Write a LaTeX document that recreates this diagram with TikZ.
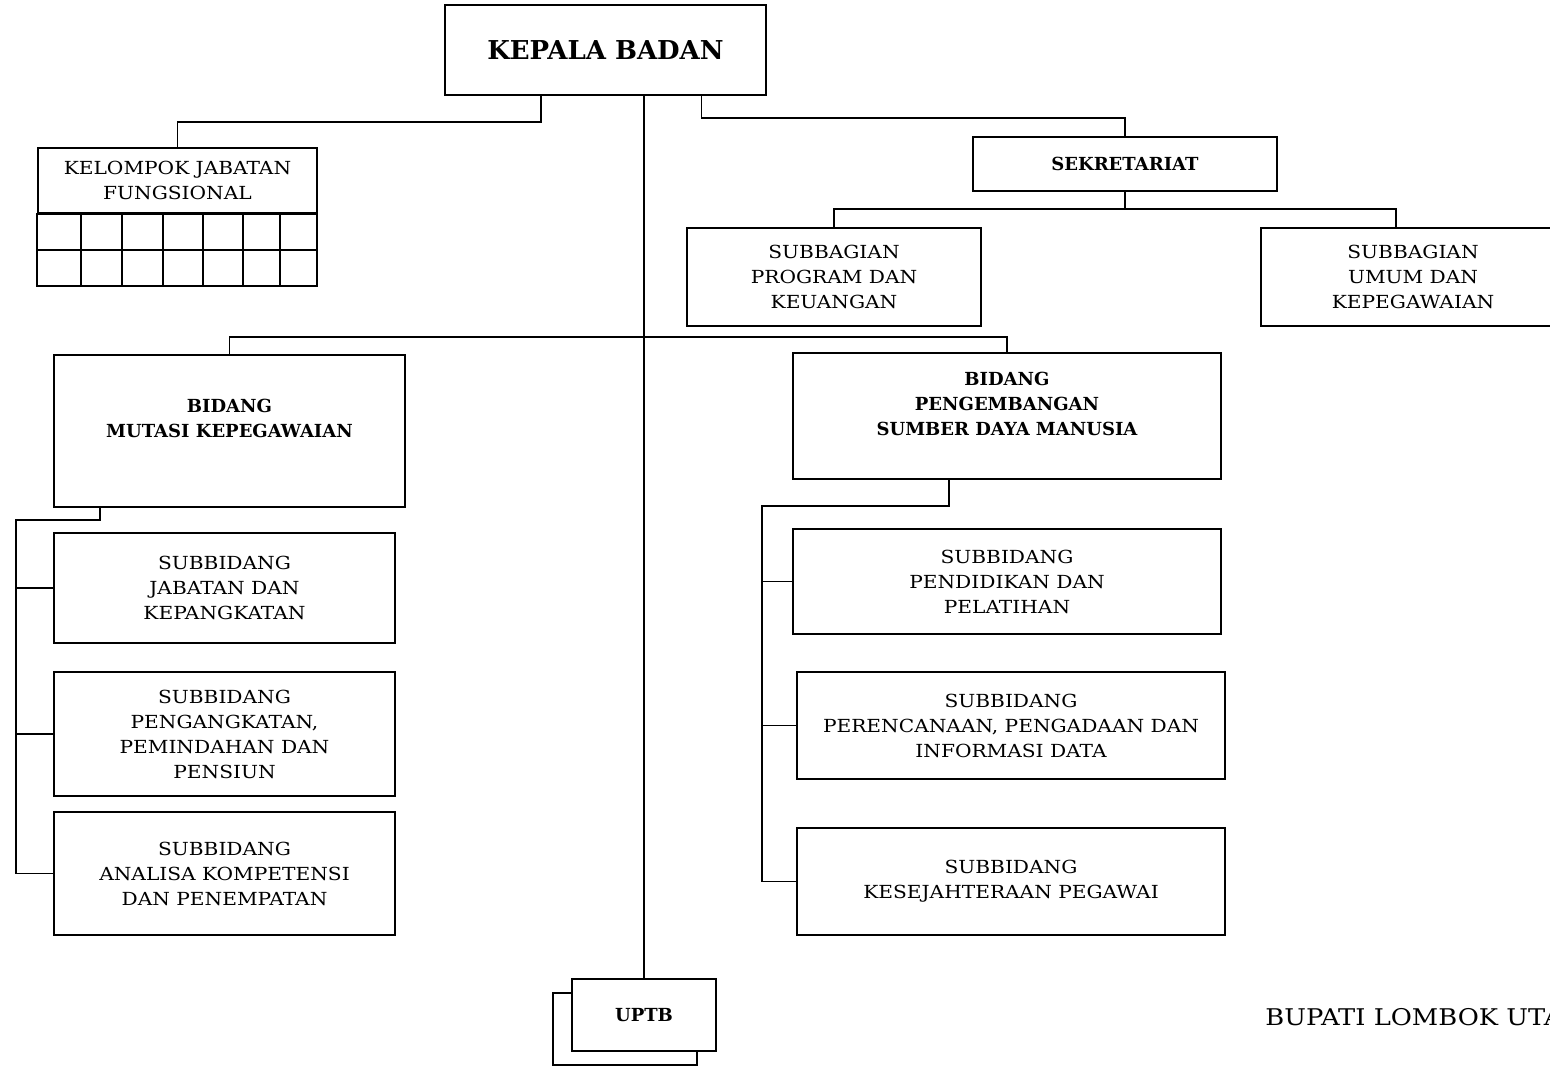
\documentclass[tikz,border=0pt]{standalone}
\usepackage{fontspec}
\setmainfont{DejaVu Serif}
\newfontfamily\widefont[FakeStretch=1.12]{DejaVu Serif}
\usepackage{tikz}
\usetikzlibrary{positioning}

\begin{document}
\begin{tikzpicture}[
    x=0.5pt, y=-0.5pt,
    unit_box/.style={rectangle, draw=black, fill=white, line width=0.9pt, align=center, inner sep=0pt, font=\widefont\fontsize{9}{12.5}\selectfont},
    head_box/.style={unit_box, font=\fontsize{9}{12.5}\selectfont\bfseries},
    line_style/.style={draw=black, line width=0.9pt}
]

\useasboundingbox (0,0) rectangle (1550,1065);

% Top node
\node[head_box, minimum width=160.5pt, minimum height=45pt, font=\fontsize{13}{16}\selectfont\bfseries] (kepala) at (605.5,50) {KEPALA BADAN};

% Functional group with grid
\node[unit_box, minimum width=139.5pt, minimum height=32.5pt] (kjf) at (177.5,180.5) {KELOMPOK JABATAN\\FUNGSIONAL};
\draw[line_style] (kjf.south west) rectangle (317,286);
\draw[line_style] (38,250) -- (317,250);
\foreach \x in {81,122,163,203,243,280}
    \draw[line_style] (\x,213) -- (\x,286);

% Secretariat and its subsections
\node[head_box, minimum width=152pt, minimum height=27pt] (sekretariat) at (1125,164) {SEKRETARIAT};
\node[unit_box, minimum width=147pt, minimum height=49pt] (subprog) at (834,277) {SUBBAGIAN\\PROGRAM DAN\\KEUANGAN};
\node[unit_box, minimum width=152pt, minimum height=49pt] (subumum) at (1413,277) {SUBBAGIAN\\UMUM DAN\\KEPEGAWAIAN};

% Left division
\node[head_box, minimum width=175.5pt, minimum height=76pt] (bidmutasi) at (229.5,431) {BIDANG\\MUTASI KEPEGAWAIAN\\~};
\node[unit_box, minimum width=170.5pt, minimum height=55pt] (subjab) at (224.5,588) {SUBBIDANG\\JABATAN DAN\\KEPANGKATAN};
\node[unit_box, minimum width=170.5pt, minimum height=62pt] (subpeng) at (224.5,734) {SUBBIDANG\\PENGANGKATAN,\\PEMINDAHAN DAN\\PENSIUN};
\node[unit_box, minimum width=170.5pt, minimum height=61.5pt] (subana) at (224.5,873.5) {SUBBIDANG\\ANALISA KOMPETENSI\\DAN PENEMPATAN};

% Right division
\node[head_box, minimum width=214pt, minimum height=63pt] (bidpsdm) at (1007,416) {BIDANG\\PENGEMBANGAN\\SUMBER DAYA MANUSIA\\~};
\node[unit_box, minimum width=214pt, minimum height=52.5pt] (subdik) at (1007,581.5) {SUBBIDANG\\PENDIDIKAN DAN\\PELATIHAN};
\node[unit_box, minimum width=214pt, minimum height=53.5pt] (subren) at (1011,725.5) {SUBBIDANG\\PERENCANAAN, PENGADAAN DAN\\INFORMASI DATA};
\node[unit_box, minimum width=214pt, minimum height=53.5pt] (subkes) at (1011,881.5) {SUBBIDANG\\KESEJAHTERAAN PEGAWAI};

% UPTB (stacked boxes)
\node[unit_box, minimum width=72pt, minimum height=36pt] (uptbback) at (625,1029) {};
\node[head_box, minimum width=72pt, minimum height=36pt] (uptb) at (644,1015) {UPTB};

% Signature text
\node[anchor=base west, inner sep=0pt, font=\widefont\fontsize{11.5}{14}\selectfont] (bupati) at (1265,1025) {BUPATI LOMBOK UTARA};

% Lines from the head
\draw[line_style] ([xshift=-32.25pt]kepala.south) -- ++(0,26) -| (kjf.north);
\draw[line_style] ([xshift=48pt]kepala.south) -- ++(0,22) -| (sekretariat.north);
\draw[line_style] (uptb.north |- kepala.south) -- (uptb.north);

% Secretariat branches
\draw[line_style] (sekretariat.south) -- ++(0,17) coordinate (sekbar);
\draw[line_style] (sekbar) -| (subprog.north);
\draw[line_style] (sekbar) -| ([xshift=-8.5pt]subumum.north);

% Division branches
\draw[line_style] (bidmutasi.north) -- ++(0,-17) -| (bidpsdm.north);

% Left subdivision bus
\coordinate (mutbus) at (16,520);
\draw[line_style] ([xshift=-64.75pt]bidmutasi.south) |- (mutbus) -- (mutbus |- subana.west) -- (subana.west);
\draw[line_style] (mutbus |- subjab.west) -- (subjab.west);
\draw[line_style] (mutbus |- subpeng.west) -- (subpeng.west);

% Right subdivision bus
\coordinate (psdmbus) at (762,506);
\draw[line_style] ([xshift=-29pt]bidpsdm.south) |- (psdmbus) -- (psdmbus |- subkes.west) -- (subkes.west);
\draw[line_style] (psdmbus |- subdik.west) -- (subdik.west);
\draw[line_style] (psdmbus |- subren.west) -- (subren.west);

\end{tikzpicture}
\end{document}
